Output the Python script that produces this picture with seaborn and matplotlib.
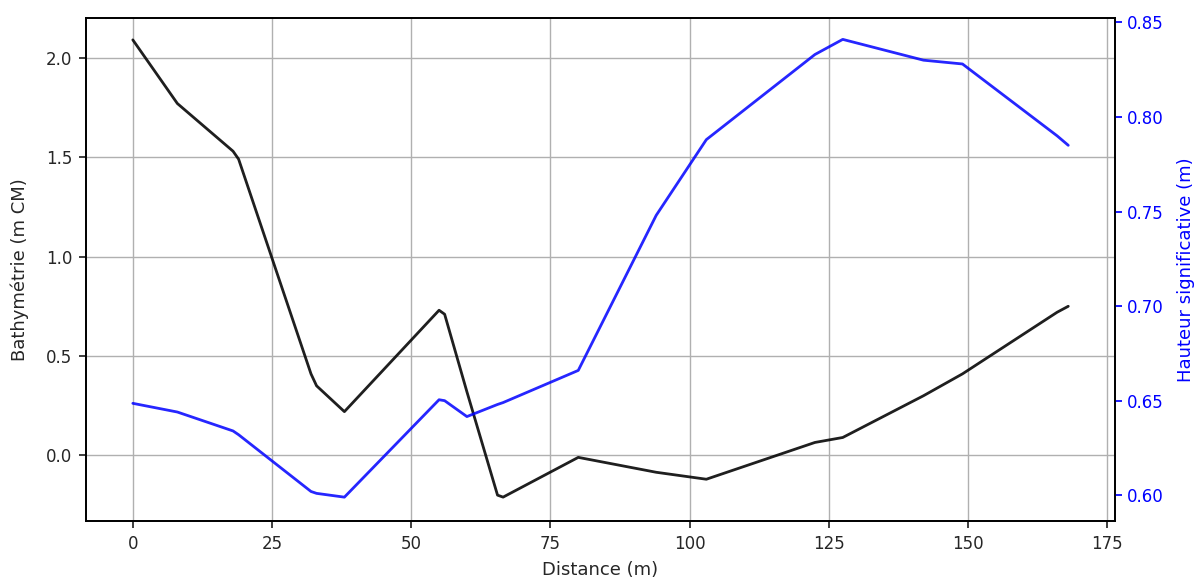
import numpy as np
import pandas as pd
import matplotlib
matplotlib.use("Agg")
from matplotlib import pyplot as plt
import seaborn as sns

# distance along the profile (m)
distance = [0, 8, 18, 19, 32, 33, 38, 55, 56, 60, 65.5, 66.5, 80, 94, 103,
            122.5, 127.5, 142, 149, 166, 168]
# bathymetry (m CM)
bathy = [2.09, 1.77, 1.53, 1.49, 0.41, 0.35, 0.22, 0.73, 0.71, 0.32, -0.20,
         -0.21, -0.01, -0.085, -0.12, 0.065, 0.09, 0.30, 0.41, 0.72, 0.75]
# significant wave height (m)
hs = [0.6486, 0.644, 0.634, 0.632, 0.602, 0.601, 0.599, 0.6505, 0.650, 0.6416,
      0.648, 0.649, 0.666, 0.748, 0.788, 0.833, 0.841, 0.830, 0.828, 0.790,
      0.785]

df = pd.DataFrame({"Distance": distance, "Bathy": bathy, "Hs": hs})

sns.set_theme(style="ticks", rc={"grid.color": "#b0b0b0", "grid.linewidth": 1.0,
                                 "axes.edgecolor": "black"})
plt.rcParams['font.family'] = ['DejaVu Sans']

fig = plt.figure(figsize=(12, 5.79), dpi=100)
ax1 = fig.add_axes([0.0717, 0.1002, 0.8575, 0.8687])
sns.lineplot(data=df, x="Distance", y="Bathy", ax=ax1, color="#000000", alpha=0.88, linewidth=2)
ax1.set_xlabel("Distance (m)", fontsize=13, labelpad=6)
ax1.set_ylabel("Bathymétrie (m CM)", fontsize=13, labelpad=12)
ax1.set_xticks([0, 25, 50, 75, 100, 125, 150, 175])
ax1.set_yticks([0.0, 0.5, 1.0, 1.5, 2.0])
ax1.tick_params(labelsize=12, length=5, pad=5)
ax1.grid(True)

ax2 = ax1.twinx()
sns.lineplot(data=df, x="Distance", y="Hs", ax=ax2, color="#0000ff", alpha=0.85, linewidth=2)
ax2.set_ylabel("Hauteur significative (m)", color="#0000ff", fontsize=13, labelpad=10)
ax2.tick_params(axis="y", colors="#0000ff", labelsize=12, length=5)
ax2.set_yticks([0.60, 0.65, 0.70, 0.75, 0.80, 0.85])
ax2.set_ylim(0.5864, 0.8523)
ax1.set_ylim(-0.33, 2.2)
ax1.set_xlim(-8.4, 176.4)

fig.savefig("out.png", dpi=100)
